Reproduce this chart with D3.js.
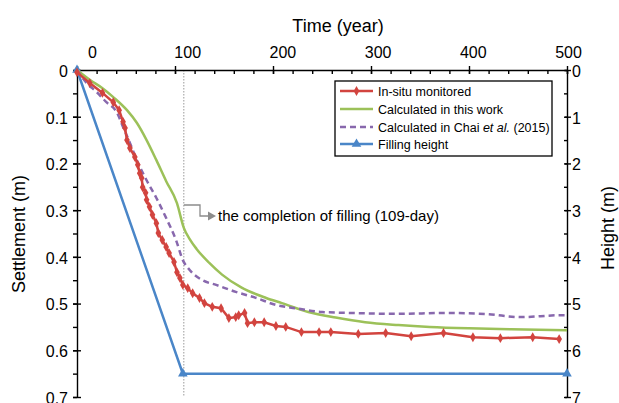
<!DOCTYPE html>
<html>
<head>
<meta charset="utf-8">
<script src="https://cdn.jsdelivr.net/npm/d3@7"></script>
<style>
  body { margin: 0; background: #fff; }
  svg { display: block; font-family: "Liberation Sans", Arial, sans-serif; }
</style>
</head>
<body>
<svg id="chart" width="619" height="403"></svg>
<script>
// data (time in days, settlement in m, height in m)
const insituDay = [0, 13, 26, 37, 43, 47, 49, 51, 54, 59, 62, 64, 66, 67, 70, 71, 74, 77, 81, 83, 87, 91, 94,
  99, 102, 105, 108, 113, 118, 125, 130, 138, 147, 155, 162, 165, 171, 174, 181, 191, 203, 213, 229, 247, 259,
  287, 315, 341, 374, 404, 432, 465, 492];
const insituSettle = [0.005, 0.028, 0.049, 0.069, 0.086, 0.111, 0.124, 0.150, 0.167, 0.186, 0.203, 0.221, 0.231,
  0.251, 0.263, 0.278, 0.293, 0.310, 0.328, 0.349, 0.364, 0.379, 0.392, 0.411, 0.433, 0.445, 0.460, 0.467, 0.478,
  0.488, 0.499, 0.507, 0.510, 0.531, 0.529, 0.525, 0.520, 0.542, 0.540, 0.540, 0.548, 0.550, 0.561, 0.561, 0.561,
  0.565, 0.563, 0.570, 0.563, 0.572, 0.574, 0.572, 0.576];

const thisWorkDay = [0, 13, 26, 37, 51, 61, 71, 81, 91, 102, 109, 115, 122, 135, 148, 168, 193, 209, 236, 264,
  294, 328, 360, 400, 443, 500];
const thisWorkSettle = [0, 0.021, 0.039, 0.058, 0.086, 0.113, 0.150, 0.193, 0.238, 0.285, 0.338, 0.362, 0.383,
  0.413, 0.438, 0.466, 0.488, 0.499, 0.518, 0.530, 0.540, 0.546, 0.550, 0.553, 0.555, 0.557];

const chaiDay = [0, 10, 20, 30, 41, 47, 54, 61, 71, 81, 91, 101, 108, 115, 128, 142, 162, 183, 203, 223, 250,
  277, 328, 376, 420, 453, 493, 500];
const chaiSettle = [0, 0.028, 0.047, 0.069, 0.092, 0.122, 0.156, 0.193, 0.236, 0.274, 0.317, 0.364, 0.407, 0.428,
  0.450, 0.460, 0.475, 0.488, 0.503, 0.510, 0.518, 0.520, 0.522, 0.520, 0.523, 0.529, 0.525, 0.525];

const fillDay = [0, 108, 500];
const fillHeight = [0, 6.5, 6.5];

const completionDay = 109;
const xTicks = [0, 100, 200, 300, 400, 500];
const settleTicks = [0, 0.1, 0.2, 0.3, 0.4, 0.5, 0.6, 0.7];
const heightTicks = [0, 1, 2, 3, 4, 5, 6, 7];

const legendItems = ["In-situ monitored", "Calculated in this work", "Calculated in Chai et al. (2015)", "Filling height"];
const colors = { red: "#d2443f", green: "#9cc159", purple: "#8868ad", blue: "#4a86c8" };

const svg = d3.select("#chart");

const x = d3.scaleLinear().domain([0, 500]).range([77, 567]);
// the printed labels sit slightly off their ticks in the original figure
const xLabel = d3.scaleLinear().domain([0, 500]).range([92, 568]);
const yL = d3.scaleLinear().domain([0, 0.7]).range([70, 397]);
const yR = d3.scaleLinear().domain([0, 7]).range([70, 397]);

// completion line
svg.append("line")
  .attr("x1", x(completionDay)).attr("x2", x(completionDay))
  .attr("y1", yL(0)).attr("y2", yL(0.7))
  .attr("stroke", "#999").attr("stroke-width", 1).attr("stroke-dasharray", "1.5,1.5");

// axes
const axisStyle = (g) => {
  g.selectAll("path,line").attr("stroke", "#000").attr("stroke-width", 1.4);
  g.selectAll("text").attr("fill", "#000").style("font-size", "16px").attr("font-family", null);
};

// top minor
svg.append("g").attr("transform", `translate(0,${yL(0)})`)
  .call(d3.axisTop(x).tickValues(d3.range(0, 501, 20)).tickSize(-4).tickFormat(""))
  .call(axisStyle).call((g) => g.select(".domain").remove());
// top major
svg.append("g").attr("transform", `translate(0,${yL(0)})`)
  .call(d3.axisTop(x).tickValues(xTicks).tickSize(4).tickSizeOuter(0))
  .call(axisStyle)
  .call((g) => g.selectAll(".tick line").attr("y1", 4))
  .call((g) => g.selectAll(".tick text").attr("x", (d) => xLabel(d) - x(d)).attr("y", -12).attr("dy", 0));

// left minor + major
svg.append("g").attr("transform", `translate(${x(0)},0)`)
  .call(d3.axisLeft(yL).tickValues(d3.range(0, 15).map((i) => i * 0.05)).tickSize(4).tickFormat(""))
  .call(axisStyle).call((g) => g.select(".domain").remove());
svg.append("g").attr("transform", `translate(${x(0)},0)`)
  .call(d3.axisLeft(yL).tickValues(settleTicks).tickSize(4).tickSizeOuter(0)
    .tickFormat((d) => (d === 0 ? "0" : d3.format(".1f")(d))))
  .call(axisStyle)
  .call((g) => g.selectAll(".tick line").attr("x1", 4))
  .call((g) => g.selectAll(".tick text").attr("x", -9).attr("dy", "0.4em"));

// right minor + major
svg.append("g").attr("transform", `translate(${x(500)},0)`)
  .call(d3.axisRight(yR).tickValues(d3.range(0, 15).map((i) => i * 0.5)).tickSize(-3).tickFormat(""))
  .call(axisStyle).call((g) => g.select(".domain").remove());
svg.append("g").attr("transform", `translate(${x(500)},0)`)
  .call(d3.axisRight(yR).tickValues(heightTicks).tickSize(4).tickSizeOuter(0).tickFormat(d3.format("d")))
  .call(axisStyle)
  .call((g) => g.selectAll(".tick line").attr("x1", -2))
  .call((g) => g.selectAll(".tick text").attr("x", 5).attr("dy", "0.4em"));

// axis titles
svg.append("text").attr("x", 338).attr("y", 32).attr("text-anchor", "middle")
  .style("font-size", "18px").text("Time (year)");
svg.append("text").attr("transform", "translate(25,234) rotate(-90)").attr("text-anchor", "middle")
  .style("font-size", "18px").text("Settlement (m)");
svg.append("text").attr("transform", "translate(614,228) rotate(-90)").attr("text-anchor", "middle")
  .style("font-size", "18px").text("Height (m)");

// series
const lineL = d3.line().x((d) => x(d[0])).y((d) => yL(d[1]));
const smoothL = d3.line().x((d) => x(d[0])).y((d) => yL(d[1])).curve(d3.curveMonotoneX);
const lineR = d3.line().x((d) => x(d[0])).y((d) => yR(d[1]));

const insitu = d3.zip(insituDay, insituSettle);
const thisWork = d3.zip(thisWorkDay, thisWorkSettle);
const chai = d3.zip(chaiDay, chaiSettle);
const filling = d3.zip(fillDay, fillHeight);

svg.append("path").datum(filling).attr("d", lineR)
  .attr("fill", "none").attr("stroke", colors.blue).attr("stroke-width", 2.5);
svg.selectAll("path.fillMark").data(filling).join("path").attr("class", "fillMark")
  .attr("transform", (d) => `translate(${x(d[0])},${yR(d[1])})`)
  .attr("d", d3.symbol(d3.symbolTriangle, 40)).attr("fill", colors.blue);

svg.append("path").datum(thisWork).attr("d", smoothL)
  .attr("fill", "none").attr("stroke", colors.green).attr("stroke-width", 2.5);

svg.append("path").datum(chai).attr("d", smoothL)
  .attr("fill", "none").attr("stroke", colors.purple).attr("stroke-width", 2.5)
  .attr("stroke-dasharray", "6,4");

svg.append("path").datum(insitu).attr("d", lineL)
  .attr("fill", "none").attr("stroke", colors.red).attr("stroke-width", 2.5);
svg.selectAll("path.insituMark").data(insitu).join("path").attr("class", "insituMark")
  .attr("transform", (d) => `translate(${x(d[0])},${yL(d[1])})`)
  .attr("d", d3.symbol(d3.symbolDiamond, 28)).attr("fill", colors.red);

// annotation
const ax = x(completionDay);
svg.append("path").attr("d", `M${ax},205H200V216H208`)
  .attr("fill", "none").attr("stroke", "#8c8c8c").attr("stroke-width", 1.3);
svg.append("path").attr("d", "M208,211.5L216,216L208,220.5Z").attr("fill", "#8c8c8c");
svg.append("text").attr("x", 218).attr("y", 221).style("font-size", "15px")
  .text("the completion of filling (109-day)");

// legend
const lg = svg.append("g").attr("transform", "translate(335,81)");
lg.append("rect").attr("width", 217).attr("height", 75)
  .attr("fill", "#fff").attr("stroke", "#000").attr("stroke-width", 1.3);
const rowY = [10, 28, 46, 63];
const sample = [
  { c: colors.red, dash: null, mark: d3.symbolDiamond, size: 28 },
  { c: colors.green, dash: null, mark: null },
  { c: colors.purple, dash: "6,4", mark: null },
  { c: colors.blue, dash: null, mark: d3.symbolTriangle, size: 40 },
];
legendItems.forEach((label, i) => {
  const row = lg.append("g").attr("transform", `translate(0,${rowY[i]})`);
  row.append("line").attr("x1", 5).attr("x2", 38).attr("y1", 0).attr("y2", 0)
    .attr("stroke", sample[i].c).attr("stroke-width", 2.5).attr("stroke-dasharray", sample[i].dash);
  if (sample[i].mark) {
    row.append("path").attr("transform", "translate(21.5,0)")
      .attr("d", d3.symbol(sample[i].mark, sample[i].size)).attr("fill", sample[i].c);
  }
  const t = row.append("text").attr("x", 43).attr("y", 4.5).style("font-size", "12.5px");
  if (label.includes("et al.")) {
    t.append("tspan").text("Calculated in Chai ");
    t.append("tspan").style("font-style", "italic").text("et al.");
    t.append("tspan").text(" (2015)");
  } else {
    t.text(label);
  }
});
</script>
</body>
</html>
